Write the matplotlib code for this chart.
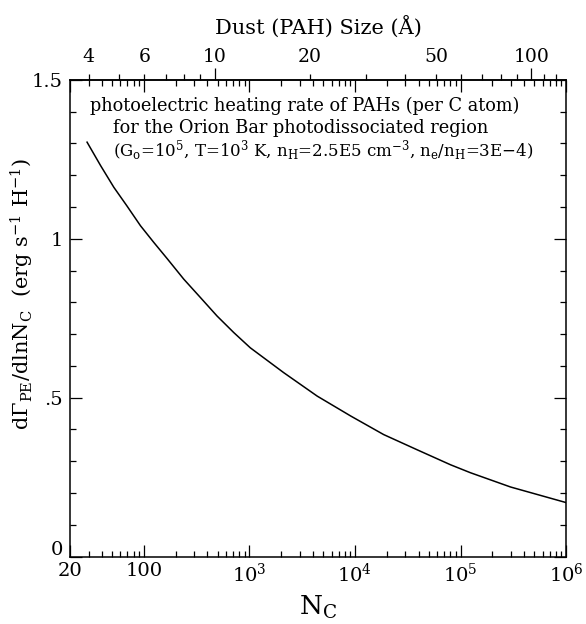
import matplotlib
matplotlib.use("Agg")
import matplotlib.pyplot as plt
import matplotlib.transforms as mtransforms
from matplotlib.ticker import FixedLocator, FixedFormatter, NullFormatter

plt.rcParams['font.family'] = ['DejaVu Serif']
plt.rcParams['mathtext.fontset'] = 'dejavuserif'

# photoelectric heating rate vs number of C atoms
n_carbon = [29, 39, 52, 69, 93, 124, 166, 239, 344, 494, 711, 1020,
            2110, 4390, 9160, 18700, 38900, 80400, 124000, 298000, 1000000]
heat_rate = [1.304, 1.230, 1.162, 1.104, 1.041, 0.989, 0.938, 0.873, 0.815,
             0.757, 0.705, 0.657, 0.579, 0.505, 0.442, 0.384, 0.336, 0.289,
             0.264, 0.219, 0.170]

x_ticks = [20, 100, 1e3, 1e4, 1e5, 1e6]
x_labels = ['20', '100', '$10^3$', '$10^4$', '$10^5$', '$10^6$']
y_ticks = [0, 0.5, 1.0, 1.5]
y_labels = ['0', '.5', '1', '1.5']
size_major = [10, 100]
size_minor = [4, 5, 6, 7, 8, 9, 20, 30, 40, 50, 60, 70, 80, 90, 110, 120]
size_labels = {4: '4', 6: '6', 20: '20', 50: '50'}


def n_to_a(n):
    return 10.0 * (n / 468.0) ** (1.0 / 3.0)


def a_to_n(a):
    return 468.0 * (a / 10.0) ** 3


fig = plt.figure(figsize=(5.86, 6.24), dpi=100)
ax = fig.add_axes([0.1195, 0.108, 0.8465, 0.764])

ax.plot(n_carbon, heat_rate, color='black', lw=1.1)

ax.set_xscale('log')
ax.set_xlim(20, 1e6)
ax.set_ylim(0, 1.5)

ax.xaxis.set_major_locator(FixedLocator(x_ticks))
ax.xaxis.set_major_formatter(FixedFormatter(x_labels))
minor_x = [m * 10 ** e for e in range(1, 6) for m in range(2, 10)]
ax.xaxis.set_minor_locator(FixedLocator([v for v in minor_x if 20 < v < 1e6]))
ax.xaxis.set_minor_formatter(NullFormatter())

ax.yaxis.set_major_locator(FixedLocator(y_ticks))
ax.yaxis.set_major_formatter(FixedFormatter(y_labels))
ax.yaxis.set_minor_locator(FixedLocator([i / 10 for i in range(16)]))

ax.tick_params(which='both', direction='in', top=True, right=True,
               labelsize=14, width=0.9)
ax.tick_params(which='major', length=8.5, pad=5)
ax.tick_params(which='minor', length=4)
ax.tick_params(axis='x', which='major', pad=4)
for s in ax.spines.values():
    s.set_linewidth(1.1)

# the "0" sits a little above the corner, as in the original
fig.canvas.draw()
zero_lab = ax.yaxis.get_major_ticks()[0].label1
zero_lab.set_transform(zero_lab.get_transform() +
                       mtransforms.ScaledTranslation(0, 6 / 72, fig.dpi_scale_trans))

ax.set_xlabel('N$_{\\rm C}$', fontsize=19, labelpad=6)
ax.set_ylabel('d$\\Gamma_{\\rm PE}$/dlnN$_{\\rm C}$  (erg s$^{-1}$ H$^{-1}$)',
              fontsize=15)
ax.yaxis.set_label_coords(-0.068, 0.55)

sec = ax.secondary_xaxis('top', functions=(n_to_a, a_to_n))
sec.xaxis.set_major_locator(FixedLocator(size_major))
sec.xaxis.set_major_formatter(FixedFormatter(['10', '100']))
sec.xaxis.set_minor_locator(FixedLocator(size_minor))
sec.xaxis.set_minor_formatter(FixedFormatter([size_labels.get(v, '') for v in size_minor]))
sec.tick_params(which='both', direction='out', labelsize=13.5, width=0.9)
sec.tick_params(which='major', length=9, pad=1)
sec.tick_params(which='minor', length=4, pad=6)
sec.spines['top'].set_linewidth(1.1)
sec.set_xlabel('Dust (PAH) Size (Å)', fontsize=15, labelpad=10)

tx = ax.transAxes
ax.text(0.04, 0.945, 'photoelectric heating rate of PAHs (per C atom)',
        transform=tx, fontsize=12.8, va='center', ha='left')
ax.text(0.087, 0.899, 'for the Orion Bar photodissociated region',
        transform=tx, fontsize=12.8, va='center', ha='left')
ax.text(0.087, 0.852,
        '(G$_{\\rm o}$=10$^5$, T=10$^3$ K, n$_{\\rm H}$=2.5E5 cm$^{-3}$, '
        'n$_{\\rm e}$/n$_{\\rm H}$=3E$-$4)',
        transform=tx, fontsize=12, va='center', ha='left')

fig.savefig('out.png', dpi=100)
